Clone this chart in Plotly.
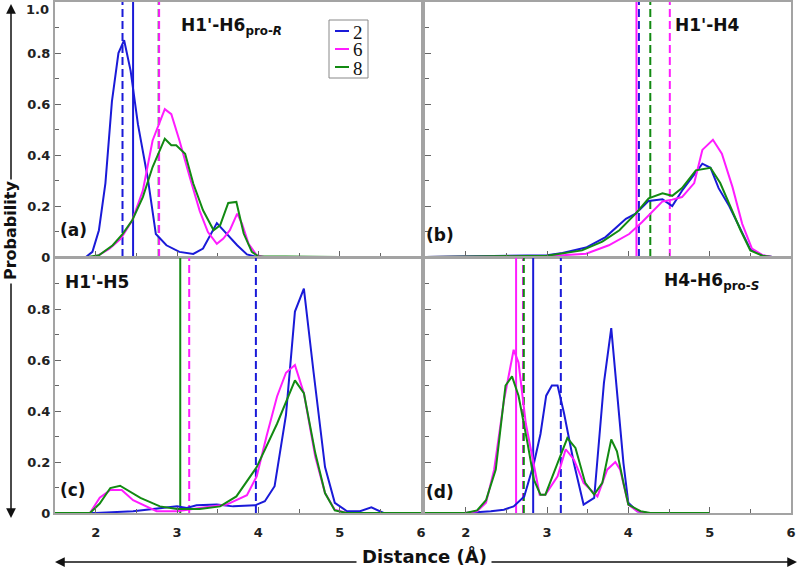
import plotly.graph_objects as go

W, H = 798, 571
BLUE = "#1a1ad8"
MAGENTA = "#ff1cff"
GREEN = "#128a12"

# ---------------- data (Distance in Å, probability) ----------------
# Panel (a) H1'-H6pro-R
a_blue_x = [1.5, 1.88, 1.96, 2.04, 2.12, 2.2, 2.28, 2.35, 2.43, 2.52, 2.64, 2.74, 2.87, 3.03, 3.2, 3.32, 3.49, 3.61, 3.74, 3.86, 3.98, 5.0]
a_blue_y = [0, 0, 0.02, 0.105, 0.29, 0.61, 0.80, 0.85, 0.73, 0.52, 0.31, 0.09, 0.046, 0.02, 0.012, 0.033, 0.133, 0.09, 0.046, 0.01, 0, 0]
a_mag_x = [1.5, 2.0, 2.17, 2.31, 2.45, 2.58, 2.7, 2.85, 2.93, 3.03, 3.16, 3.28, 3.38, 3.49, 3.57, 3.65, 3.74, 3.8, 3.88, 3.98, 4.07, 5.0]
a_mag_y = [0, 0, 0.033, 0.072, 0.144, 0.26, 0.457, 0.58, 0.56, 0.457, 0.31, 0.18, 0.098, 0.052, 0.072, 0.105, 0.17, 0.13, 0.052, 0.007, 0, 0]
a_grn_x = [1.5, 1.9, 2.04, 2.21, 2.33, 2.45, 2.58, 2.7, 2.85, 2.93, 2.99, 3.1, 3.2, 3.32, 3.45, 3.53, 3.63, 3.73, 3.82, 3.92, 4.0, 5.0]
a_grn_y = [0, 0, 0.007, 0.046, 0.09, 0.144, 0.235, 0.353, 0.464, 0.438, 0.438, 0.405, 0.288, 0.183, 0.105, 0.124, 0.212, 0.216, 0.092, 0.02, 0.003, 0]

# Panel (b) H1'-H4
b_blue_x = [1.5, 2.49, 3.0, 3.19, 3.48, 3.72, 3.97, 4.09, 4.25, 4.42, 4.54, 4.66, 4.83, 4.91, 5.01, 5.11, 5.24, 5.36, 5.5, 5.65, 5.77, 6.0]
b_blue_y = [0, 0.003, 0.007, 0.016, 0.037, 0.078, 0.15, 0.17, 0.22, 0.226, 0.2, 0.26, 0.33, 0.366, 0.35, 0.27, 0.2, 0.12, 0.03, 0.006, 0, 0]
b_mag_x = [1.5, 3.0, 3.48, 3.76, 4.01, 4.17, 4.42, 4.54, 4.66, 4.81, 4.91, 5.04, 5.15, 5.28, 5.4, 5.52, 5.65, 5.77, 6.0]
b_mag_y = [0, 0.003, 0.013, 0.046, 0.09, 0.137, 0.218, 0.225, 0.235, 0.29, 0.42, 0.46, 0.405, 0.275, 0.13, 0.033, 0.007, 0, 0]
b_grn_x = [1.5, 2.49, 3.0, 3.43, 3.68, 3.89, 4.09, 4.25, 4.42, 4.54, 4.66, 4.83, 5.01, 5.13, 5.24, 5.38, 5.5, 5.65, 5.77, 6.0]
b_grn_y = [0, 0.003, 0.005, 0.026, 0.06, 0.105, 0.17, 0.23, 0.25, 0.24, 0.27, 0.34, 0.35, 0.29, 0.21, 0.105, 0.026, 0.005, 0, 0]

# Panel (c) H1'-H5
c_blue_x = [1.5, 2.0, 2.46, 2.87, 3.0, 3.12, 3.24, 3.49, 3.69, 3.96, 4.08, 4.2, 4.34, 4.45, 4.56, 4.68, 4.82, 4.94, 5.09, 5.25, 5.39, 5.54, 6.0]
c_blue_y = [0, 0, 0.007, 0.02, 0.026, 0.02, 0.03, 0.033, 0.026, 0.03, 0.046, 0.105, 0.385, 0.79, 0.88, 0.55, 0.18, 0.04, 0.007, 0.007, 0.022, 0, 0]
c_mag_x = [1.5, 1.93, 2.05, 2.18, 2.32, 2.46, 2.75, 3.0, 3.28, 3.61, 3.86, 3.98, 4.1, 4.23, 4.34, 4.45, 4.56, 4.7, 4.82, 4.94, 5.09, 6.0]
c_mag_y = [0, 0, 0.06, 0.09, 0.09, 0.05, 0.007, 0.007, 0.02, 0.033, 0.07, 0.144, 0.3, 0.457, 0.55, 0.58, 0.47, 0.22, 0.078, 0.013, 0, 0]
c_grn_x = [1.5, 1.93, 2.05, 2.18, 2.3, 2.55, 2.79, 3.0, 3.28, 3.53, 3.73, 3.98, 4.23, 4.35, 4.45, 4.56, 4.7, 4.82, 4.94, 5.09, 6.0]
c_grn_y = [0, 0, 0.037, 0.098, 0.107, 0.059, 0.026, 0.016, 0.016, 0.026, 0.065, 0.18, 0.35, 0.44, 0.52, 0.47, 0.235, 0.078, 0.01, 0, 0]

# Panel (d) H4-H6pro-S
d_blue_x = [1.5, 2.0, 2.31, 2.47, 2.59, 2.72, 2.84, 2.92, 2.99, 3.06, 3.13, 3.21, 3.33, 3.45, 3.58, 3.7, 3.79, 3.86, 3.94, 4.0, 4.11, 4.23, 5.0]
d_blue_y = [0, 0, 0.007, 0.013, 0.026, 0.065, 0.196, 0.31, 0.46, 0.50, 0.50, 0.39, 0.196, 0.033, 0.059, 0.51, 0.725, 0.48, 0.196, 0.04, 0.007, 0, 0]
d_mag_x = [1.5, 2.0, 2.14, 2.25, 2.35, 2.47, 2.59, 2.65, 2.74, 2.84, 2.91, 2.98, 3.13, 3.23, 3.33, 3.45, 3.53, 3.62, 3.74, 3.84, 3.9, 4.0, 4.11, 4.23, 5.0]
d_mag_y = [0, 0, 0.007, 0.04, 0.17, 0.44, 0.64, 0.59, 0.35, 0.18, 0.072, 0.072, 0.144, 0.25, 0.21, 0.118, 0.092, 0.065, 0.17, 0.2, 0.17, 0.033, 0.007, 0, 0]
d_grn_x = [1.5, 2.0, 2.14, 2.25, 2.37, 2.49, 2.57, 2.65, 2.76, 2.84, 2.92, 2.98, 3.13, 3.25, 3.35, 3.47, 3.58, 3.68, 3.79, 3.86, 3.94, 4.0, 4.15, 4.27, 5.0]
d_grn_y = [0, 0, 0.01, 0.05, 0.17, 0.5, 0.536, 0.46, 0.275, 0.13, 0.072, 0.072, 0.196, 0.294, 0.255, 0.118, 0.072, 0.118, 0.288, 0.242, 0.118, 0.033, 0.007, 0, 0]

# Reference (vertical) distances per panel: (x, colour, style)
a_vlines = [(2.33, BLUE, "dash"), (2.46, BLUE, "solid"), (2.775, GREEN, "dash"), (2.78, MAGENTA, "dash")]
b_vlines = [(4.10, MAGENTA, "solid"), (4.13, BLUE, "dash"), (4.27, GREEN, "dash"), (4.51, MAGENTA, "dash")]
c_vlines = [(3.15, MAGENTA, "dash"), (3.97, BLUE, "dash"), (3.04, GREEN, "solid")]
d_vlines = [(2.62, MAGENTA, "solid"), (2.705, MAGENTA, "dash"), (2.715, GREEN, "dash"), (2.83, BLUE, "solid"), (3.17, BLUE, "dash")]

series_names = ["2", "6", "8"]
x_ticks = [2, 3, 4, 5, 6]
y_ticks_a = [0, 0.2, 0.4, 0.6, 0.8, 1.0]
y_ticks_c = [0, 0.2, 0.4, 0.6, 0.8]

panels = [
    ("x", "y", [(a_blue_x, a_blue_y), (a_mag_x, a_mag_y), (a_grn_x, a_grn_y)], a_vlines),
    ("x2", "y2", [(b_blue_x, b_blue_y), (b_mag_x, b_mag_y), (b_grn_x, b_grn_y)], b_vlines),
    ("x3", "y3", [(c_blue_x, c_blue_y), (c_mag_x, c_mag_y), (c_grn_x, c_grn_y)], c_vlines),
    ("x4", "y4", [(d_blue_x, d_blue_y), (d_mag_x, d_mag_y), (d_grn_x, d_grn_y)], d_vlines),
]

fig = go.Figure()
colors = [BLUE, MAGENTA, GREEN]
dash_map = {"dash": "8px,4px", "solid": "solid"}
for pi, (xa, ya, curves, vlines) in enumerate(panels):
    for (vx, col, sty) in vlines:
        fig.add_trace(go.Scatter(x=[vx, vx], y=[0, 1], mode="lines", xaxis=xa, yaxis=ya,
                                 line=dict(color=col, width=2, dash=dash_map[sty]),
                                 showlegend=False, hoverinfo="skip"))
    for si, (cx, cy) in enumerate(curves):
        fig.add_trace(go.Scatter(x=cx, y=cy, mode="lines", xaxis=xa, yaxis=ya,
                                 name=series_names[si], line=dict(color=colors[si], width=2),
                                 showlegend=False))

FRAME = "#a3a3a3"
TICKFONT = dict(family="DejaVu Sans", size=13, color="#222", weight="bold")

def xaxis(domain, anchor, labels):
    return dict(domain=domain, anchor=anchor, range=[1.5, 6.0], showline=True, mirror=True,
                linecolor=FRAME, linewidth=2, ticks="inside", ticklen=6, tickcolor="#666",
                tickvals=x_ticks, ticktext=[str(v) for v in x_ticks], showticklabels=labels,
                ticklabeloverflow="allow", ticklabelstandoff=6,
                minor=dict(ticks="inside", ticklen=4, dtick=0.5, tick0=1.5, tickcolor="#666"),
                showgrid=False, zeroline=False, automargin=False, tickfont=TICKFONT, fixedrange=True)

def yaxis(domain, anchor, ticks, labels):
    return dict(domain=domain, anchor=anchor, range=[0, 1.0], showline=True, mirror=True,
                linecolor=FRAME, linewidth=2, ticks="inside", ticklen=6, tickcolor="#666",
                tickvals=ticks,
                ticktext=[("0" if v == 0 else ("" if v == 1.0 else f"{v:.1f}")) for v in ticks],
                showticklabels=labels, ticklabeloverflow="allow",
                minor=dict(ticks="inside", ticklen=4, dtick=0.1, tick0=0, tickcolor="#666"),
                showgrid=False, zeroline=False, automargin=False, tickfont=TICKFONT, fixedrange=True)

xl = [55 / W, 421 / W]
xr = [425 / W, 791 / W]
yt = [1 - 257 / H, 1 - 2 / H]
yb = [1 - 513 / H, 1 - 258 / H]

fig.update_layout(
    template="none",
    width=W, height=H,
    margin=dict(l=0, r=0, t=0, b=0),
    paper_bgcolor="white", plot_bgcolor="white",
    xaxis=xaxis(xl, "y", False), yaxis=yaxis(yt, "x", y_ticks_a, True),
    xaxis2=xaxis(xr, "y2", False), yaxis2=yaxis(yt, "x2", y_ticks_a, False),
    xaxis3=xaxis(xl, "y3", True), yaxis3=yaxis(yb, "x3", y_ticks_c, True),
    xaxis4=xaxis(xr, "y4", True), yaxis4=yaxis(yb, "x4", y_ticks_c, False),
    showlegend=False,
)

TITLE = dict(family="DejaVu Sans", size=17, color="#111", weight="bold")
ann = []
shapes = []
def label(text, px, py, font=TITLE, xanchor="left", **kw):
    ann.append(dict(text=text, x=px / W, y=1 - py / H, xref="paper", yref="paper",
                    showarrow=False, xanchor=xanchor, yanchor="middle", font=font, **kw))

label("H1'-H6<sub>pro-<i>R</i></sub>", 179, 26)
label("H1'-H4", 673, 25)
label("H1'-H5", 63, 282)
label("H4-H6<sub>pro-<i>S</i></sub>", 662, 281)
label("(a)", 58, 230)
label("(b)", 424, 235)
label("(c)", 58, 490)
label("(d)", 424, 492)
label("1.0", 51, 9, font=TICKFONT, xanchor="right")
label("Probability", 11, 231, font=dict(family="DejaVu Sans", size=16, color="#111", weight="bold"),
      xanchor="center", textangle=-90)
label("Distance (Å)", 424, 556, font=dict(family="DejaVu Sans", size=18, color="#111", weight="bold"),
      xanchor="center")

def arrow(hx, hy, tx, ty):
    ann.append(dict(text="", x=hx / W, y=1 - hy / H, xref="paper", yref="paper",
                    ax=tx - hx, ay=ty - hy, axref="pixel", ayref="pixel",
                    showarrow=True, arrowhead=2, arrowsize=1.3, arrowwidth=1.5, arrowcolor="#111"))

arrow(11, 4, 11, 181)
arrow(11, 518, 11, 282)
arrow(55, 562, 358, 562)
arrow(797, 562, 490, 562)

# legend box (series names 2 / 6 / 8)
shapes.append(dict(type="rect", xref="paper", yref="paper", x0=329 / W, x1=368 / W,
                   y0=1 - 78 / H, y1=1 - 20 / H, line=dict(color="#888", width=1), fillcolor="white"))
for i, (nm, col) in enumerate(zip(series_names, colors)):
    yy = 31 + 18 * i
    shapes.append(dict(type="line", xref="paper", yref="paper", x0=335 / W, x1=349 / W,
                       y0=1 - yy / H, y1=1 - yy / H, line=dict(color=col, width=2)))
    label(nm, 351, yy + 1, font=dict(family="Liberation Serif", size=19, color="#111"))

fig.update_layout(annotations=ann, shapes=shapes)
fig.write_html("out.html", config={"displayModeBar": False},
               post_script="document.body.style.margin='0';document.body.style.padding='0';")
